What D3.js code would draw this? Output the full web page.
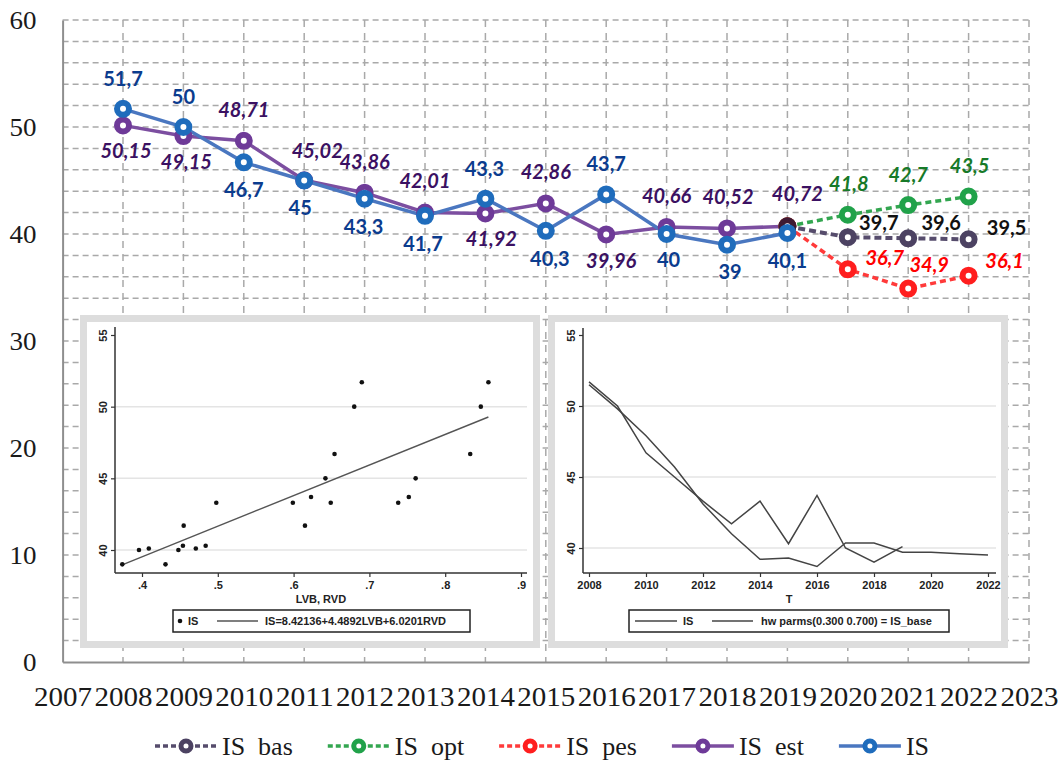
<!DOCTYPE html>
<html><head><meta charset="utf-8">
<script src="https://cdn.jsdelivr.net/npm/d3@7"></script>
<style>body{margin:0;background:#fff} svg{display:block}</style>
</head><body>
<svg id="c" width="1059" height="763"></svg>
<script>
// ---------- main chart data ----------
const years = [2008,2009,2010,2011,2012,2013,2014,2015,2016,2017,2018,2019];
const isActual = [51.7,50,46.7,45,43.3,41.7,43.3,40.3,43.7,40,39,40.1];
const isEst = [50.15,49.15,48.71,45.02,43.86,42.01,41.92,42.86,39.96,40.66,40.52,40.72];
const fcYears = [2019,2020,2021,2022];
const isBas = [40.72,39.7,39.6,39.5];
const isOpt = [40.72,41.8,42.7,43.5];
const isPes = [40.72,36.7,34.9,36.1];
const xTickVals = [2007,2008,2009,2010,2011,2012,2013,2014,2015,2016,2017,2018,2019,2020,2021,2022,2023];
const yTickVals = [0,10,20,30,40,50,60];
const legendLabels = ["IS  bas","IS  opt","IS  pes","IS  est","IS"];

// ---------- inset 1 (scatter) data ----------
const scatLVB = [0.374,0.396,0.409,0.431,0.448,0.454,0.455,0.471,0.484,0.498,0.599,0.615,0.623,0.642,0.649,0.654,0.680,0.690,0.738,0.752,0.761,0.833,0.847,0.857];
const scatIS  = [39.0,40.0,40.1,39.0,40.0,40.3,41.7,40.1,40.3,43.3,43.3,41.7,43.7,45.0,43.3,46.7,50.0,51.7,43.3,43.7,45.0,46.7,50.0,51.7];
const fitX = [0.373,0.857];
const fitY = [38.95,49.28];
const inset1XTicks = [0.4,0.5,0.6,0.7,0.8,0.9];
const insetYTicks = [40,45,50,55];
const inset1Legend = ["IS","IS=8.42136+4.4892LVB+6.0201RVD"];

// ---------- inset 2 (Holt-Winters) data ----------
const hwYearsIS = [2008,2009,2010,2011,2012,2013,2014,2015,2016,2017,2018,2019];
const hwIS = [51.7,50,46.7,45,43.3,41.7,43.3,40.3,43.7,40,39,40.1];
const hwYears = [2008,2009,2010,2011,2012,2013,2014,2015,2016,2017,2018,2019,2020,2021,2022];
const hwBase = [51.5,49.8,47.9,45.7,43.1,41.0,39.2,39.3,38.7,40.35,40.35,39.7,39.7,39.6,39.5];
const inset2XTicks = [2008,2010,2012,2014,2016,2018,2020,2022];
const inset2Legend = ["IS","hw parms(0.300 0.700) = IS_base"];

// ---------- label placement (pixel offsets, style only) ----------
const blueLabelPlace = [[0,-23],[0,-23],[0,35],[-4,34],[-1,35],[-2,35],[-1,-23],[4,35],[0,-23],[2,33],[3,34],[0,35]];
const purpleLabelPlace = [[3,33],[3,33],[0,-24],[13,-22],[0,-24],[0,-24],[6,33],[0,-24],[5,34],[0,-24],[1,-24],[10,-25]];
const basLabelPlace = [null,[31,-7],[33,-8],[38,-4]];
const optLabelPlace = [null,[1,-24],[0,-23],[1,-24]];
const pesLabelPlace = [null,[37,-4],[21,-17],[36,-8]];

const svg = d3.select("#c");
const x = d3.scaleLinear().domain([2007,2023]).range([62.6,1029]);
const y = d3.scaleLinear().domain([0,60]).range([662,20]);
const fmt = v => String(v).replace(".", ",");

// gridlines
const grid = svg.append("g");
grid.selectAll("line.gh").data(y.ticks(30).filter(v => v > 0)).join("line").attr("class","gh")
  .attr("x1", x(2007)).attr("x2", x(2023)).attr("y1", d => y(d)).attr("y2", d => y(d))
  .attr("stroke","#a9a9a9").attr("stroke-width",1.5).attr("stroke-dasharray","6,4");
grid.selectAll("line.gv").data(xTickVals.filter(v => v > 2007)).join("line").attr("class","gv")
  .attr("x1", d => x(d)).attr("x2", d => x(d)).attr("y1", y(60)).attr("y2", y(0))
  .attr("stroke","#a9a9a9").attr("stroke-width",1.5).attr("stroke-dasharray","7,6");

// axes
const yAxis = svg.append("g").attr("transform",`translate(${x(2007)},0)`)
  .call(d3.axisLeft(y).tickValues(yTickVals).tickSize(0).tickPadding(26).tickFormat(d3.format("d")));
yAxis.select(".domain").attr("stroke","#8e8e8e").attr("stroke-width",2);
yAxis.selectAll("text").attr("font-family","'Liberation Serif','Times New Roman',serif")
  .attr("font-size",25).attr("fill","#1a1a1a")
  .attr("textLength", d => String(d).length * 13.5).attr("lengthAdjust","spacingAndGlyphs");

const xAxis = svg.append("g").attr("transform",`translate(0,${y(0)})`)
  .call(d3.axisBottom(x).tickValues(xTickVals).tickSize(0).tickPadding(25).tickFormat(d3.format("d")));
xAxis.select(".domain").attr("stroke","#8e8e8e").attr("stroke-width",2);
xAxis.selectAll("text").attr("font-family","'Liberation Serif','Times New Roman',serif")
  .attr("font-size",27).attr("fill","#1a1a1a")
  .attr("textLength",58).attr("lengthAdjust","spacingAndGlyphs");

// ---------- insets ----------
const insetFont = "'Liberation Sans',Arial,sans-serif";
function panel(px, py){
  svg.append("rect").attr("x",px).attr("y",py).attr("width",460).attr("height",333).attr("fill","#dddddd");
  svg.append("rect").attr("x",px+7).attr("y",py+7).attr("width",446).attr("height",319).attr("fill","#ffffff");
}
// Inset 1
panel(80,315);
const s1x = d3.scaleLinear().domain([0.4,0.9]).range([142,521]);
const s1y = d3.scaleLinear().domain([40,55]).range([550,335]);
const g1 = svg.append("g");
g1.selectAll("line.g").data([40,45,50]).join("line").attr("class","g")
  .attr("x1",115).attr("x2",527).attr("y1",d=>s1y(d)).attr("y2",d=>s1y(d))
  .attr("stroke","#e4e4e4").attr("stroke-width",1.5);
const ax1y = g1.append("g").attr("transform","translate(115,0)")
  .call(d3.axisLeft(s1y).tickValues(insetYTicks).tickSize(4).tickFormat(d3.format("d")));
ax1y.select(".domain").attr("d","M0,327V573");
const ax1x = g1.append("g").attr("transform","translate(0,573)")
  .call(d3.axisBottom(s1x).tickValues(inset1XTicks).tickSize(4).tickPadding(4).tickFormat(d => String(d).replace("0.",".")));
ax1x.select(".domain").attr("d","M115,0H527");
[ax1x, ax1y].forEach(a => {
  a.select(".domain").attr("stroke","#333").attr("stroke-width",1.5);
  a.selectAll(".tick line").attr("stroke","#333").attr("stroke-width",1.2);
  a.selectAll("text").attr("font-family",insetFont).attr("font-size",11).attr("font-weight","bold").attr("fill","#222");
});
ax1y.selectAll("text").attr("transform","rotate(-90)").attr("x",0).attr("y",-8).attr("dy","0").attr("text-anchor","middle");
g1.append("text").attr("x",321).attr("y",603).attr("text-anchor","middle")
  .attr("font-family",insetFont).attr("font-size",11).attr("font-weight","bold").attr("fill","#222").text("LVB, RVD");
g1.append("line").attr("x1",s1x(fitX[0])).attr("y1",s1y(fitY[0])).attr("x2",s1x(fitX[1])).attr("y2",s1y(fitY[1]))
  .attr("stroke","#555").attr("stroke-width",1.4);
g1.selectAll("circle").data(scatLVB.map((v,i)=>[v,scatIS[i]])).join("circle")
  .attr("cx",d=>s1x(d[0])).attr("cy",d=>s1y(d[1])).attr("r",2.3).attr("fill","#111");
g1.append("rect").attr("x",173).attr("y",610).attr("width",297).attr("height",22).attr("fill","#fff").attr("stroke","#222").attr("stroke-width",1.5);
g1.append("circle").attr("cx",180).attr("cy",621).attr("r",2.3).attr("fill","#111");
g1.append("text").attr("x",188).attr("y",625).attr("font-family",insetFont).attr("font-size",11).attr("font-weight","bold").attr("fill","#222").text(inset1Legend[0]);
g1.append("line").attr("x1",217).attr("x2",258).attr("y1",621).attr("y2",621).attr("stroke","#555").attr("stroke-width",1.4);
g1.append("text").attr("x",265).attr("y",625).attr("font-family",insetFont).attr("font-size",11).attr("font-weight","bold").attr("fill","#222").text(inset1Legend[1]);

// Inset 2
panel(548,315);
const s2x = d3.scaleLinear().domain([2008,2022]).range([589,988]);
const s2y = d3.scaleLinear().domain([40,55]).range([548,335]);
const g2 = svg.append("g");
g2.selectAll("line.g").data([40,45,50]).join("line").attr("class","g")
  .attr("x1",583).attr("x2",996).attr("y1",d=>s2y(d)).attr("y2",d=>s2y(d))
  .attr("stroke","#e4e4e4").attr("stroke-width",1.5);
const ax2y = g2.append("g").attr("transform","translate(583,0)")
  .call(d3.axisLeft(s2y).tickValues(insetYTicks).tickSize(4).tickFormat(d3.format("d")));
ax2y.select(".domain").attr("d","M0,328V573");
const ax2x = g2.append("g").attr("transform","translate(0,573)")
  .call(d3.axisBottom(s2x).tickValues(inset2XTicks).tickSize(4).tickPadding(4).tickFormat(d3.format("d")));
ax2x.select(".domain").attr("d","M583,0H996");
[ax2x, ax2y].forEach(a => {
  a.select(".domain").attr("stroke","#333").attr("stroke-width",1.5);
  a.selectAll(".tick line").attr("stroke","#333").attr("stroke-width",1.2);
  a.selectAll("text").attr("font-family",insetFont).attr("font-size",11).attr("font-weight","bold").attr("fill","#222");
});
ax2y.selectAll("text").attr("transform","rotate(-90)").attr("x",0).attr("y",-8).attr("dy","0").attr("text-anchor","middle");
g2.append("text").attr("x",789).attr("y",603).attr("text-anchor","middle")
  .attr("font-family",insetFont).attr("font-size",11).attr("font-weight","bold").attr("fill","#222").text("T");
const l2 = d3.line().x(d=>s2x(d[0])).y(d=>s2y(d[1]));
g2.append("path").attr("d",l2(hwYearsIS.map((v,i)=>[v,hwIS[i]]))).attr("fill","none").attr("stroke","#444").attr("stroke-width",1.5);
g2.append("path").attr("d",l2(hwYears.map((v,i)=>[v,hwBase[i]]))).attr("fill","none").attr("stroke","#444").attr("stroke-width",1.5);
g2.append("rect").attr("x",629).attr("y",610).attr("width",320).attr("height",22).attr("fill","#fff").attr("stroke","#222").attr("stroke-width",1.5);
g2.append("line").attr("x1",635).attr("x2",677).attr("y1",621).attr("y2",621).attr("stroke","#444").attr("stroke-width",1.5);
g2.append("text").attr("x",683).attr("y",625).attr("font-family",insetFont).attr("font-size",11).attr("font-weight","bold").attr("fill","#222").text(inset2Legend[0]);
g2.append("line").attr("x1",712).attr("x2",753).attr("y1",621).attr("y2",621).attr("stroke","#444").attr("stroke-width",1.5);
g2.append("text").attr("x",761).attr("y",625).attr("font-family",insetFont).attr("font-size",11).attr("font-weight","bold").attr("fill","#222").text(inset2Legend[1]);

// ---------- main series ----------
const line = d3.line().x(d=>x(d[0])).y(d=>y(d[1]));
const pts = (xs, vs) => xs.map((v,i)=>[v, vs[i]]);
const series = {
  est: {xs: years, vs: isEst, marker:"#6e3a98", line:"#7c4ea0", dash:null, w:3.5, label:"#3b1162", italic:true, place:purpleLabelPlace},
  act: {xs: years, vs: isActual, marker:"#1f6cbc", line:"#4a77c0", dash:null, w:3.5, label:"#0b3c8e", italic:false, place:blueLabelPlace},
  bas: {xs: fcYears, vs: isBas, marker:"#4c4262", line:"#564c6c", dash:"7,4", w:4, label:"#111111", italic:false, place:basLabelPlace},
  opt: {xs: fcYears, vs: isOpt, marker:"#21a24a", line:"#33a650", dash:"6,4", w:3.5, label:"#177a28", italic:true, place:optLabelPlace},
  pes: {xs: fcYears, vs: isPes, marker:"#ff1e1e", line:"#ff3a3a", dash:"6,4", w:3.5, label:"#ff0000", italic:true, place:pesLabelPlace}
};
const gl = svg.append("g");
["est","act","opt","pes","bas"].forEach(k => {
  const s = series[k];
  gl.append("path").attr("d", line(pts(s.xs, s.vs))).attr("fill","none")
    .attr("stroke", s.line).attr("stroke-width", s.w).attr("stroke-dasharray", s.dash);
});
function markers(k, col){
  const s = series[k];
  gl.append("g").selectAll("circle").data(pts(s.xs, s.vs)).join("circle")
    .attr("cx", d=>x(d[0])).attr("cy", d=>y(d[1])).attr("r",6)
    .attr("fill","#fff").attr("stroke", (d,i) => (col && i === 0) ? col : s.marker).attr("stroke-width",6);
}
markers("est"); markers("opt"); markers("pes"); markers("bas", "#3e1a33"); markers("act");

const labelFont = "Lato,'Open Sans','Liberation Sans',sans-serif";
["est","act","bas","opt","pes"].forEach(k => {
  const s = series[k];
  const data = pts(s.xs, s.vs).map((d,i)=>({d, p:s.place[i]})).filter(o => o.p);
  gl.append("g").selectAll("text").data(data).join("text")
    .attr("x", o => x(o.d[0]) + o.p[0]).attr("y", o => y(o.d[1]) + o.p[1])
    .attr("text-anchor","middle").attr("font-family",labelFont).attr("font-size",20)
    .attr("font-weight","bold").attr("font-style", s.italic ? "italic" : "normal")
    .attr("fill", s.label).text(o => fmt(o.d[1]));
});

// ---------- legend ----------
const legKeys = ["bas","opt","pes","est","act"];
const lg = svg.append("g");
let lx = 155;
const ly = 746;
legKeys.forEach((k,i) => {
  const s = series[k];
  lg.append("line").attr("x1",lx).attr("x2",lx+62).attr("y1",ly).attr("y2",ly)
    .attr("stroke", s.line).attr("stroke-width",3.5).attr("stroke-dasharray", s.dash ? "5,3" : null);
  lg.append("circle").attr("cx",lx+31).attr("cy",ly).attr("r",5).attr("fill","#fff")
    .attr("stroke", s.marker).attr("stroke-width",5);
  const t = lg.append("text").attr("x",lx+67).attr("y",ly+9).style("white-space","pre")
    .attr("font-family","'Liberation Serif','Times New Roman',serif").attr("font-size",26)
    .attr("fill","#1a1a1a").text(legendLabels[i]);
  lx = lx + 67 + t.node().getComputedTextLength() + 35;
});
</script>
</body></html>
